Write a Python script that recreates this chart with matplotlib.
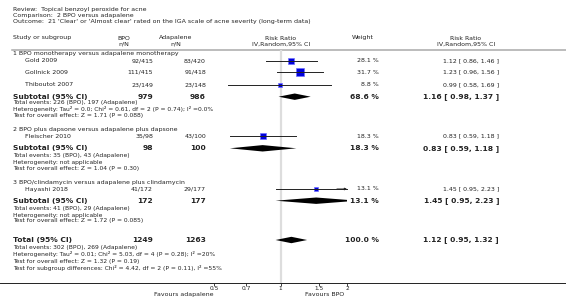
import numpy as np
import matplotlib
matplotlib.use("Agg")
import matplotlib.pyplot as plt

## header
review = "Review:  Topical benzoyl peroxide for acne"
comparison = "Comparison:  2 BPO versus adapalene"
outcome = "Outcome:  21 'Clear' or 'Almost clear' rated on the IGA scale of acne severity (long-term data)"

## studies
studies = ["Gold 2009", "Gollnick 2009", "Thiboutot 2007", "Fleischer 2010", "Hayashi 2018"]
bpo_events = [92, 111, 23, 35, 41]
bpo_n = [415, 415, 149, 98, 172]
ada_events = [83, 91, 23, 43, 29]
ada_n = [420, 418, 148, 100, 177]
weights = [28.1, 31.7, 8.8, 18.3, 13.1]
rr = [1.12, 1.23, 0.99, 0.83, 1.45]
rr_lo = [0.86, 0.96, 0.58, 0.59, 0.95]
rr_hi = [1.46, 1.56, 1.69, 1.18, 2.23]

## subgroups
groups = ["1 BPO monotherapy versus adapalene monotherapy",
          "2 BPO plus dapsone versus adapalene plus dapsone",
          "3 BPO/clindamycin versus adapalene plus clindamycin"]
grp_bpo_n = [979, 98, 172]
grp_ada_n = [986, 100, 177]
grp_weight = [68.6, 18.3, 13.1]
grp_rr = [1.16, 0.83, 1.45]
grp_lo = [0.98, 0.59, 0.95]
grp_hi = [1.37, 1.18, 2.23]
grp_notes = [
    ["Total events: 226 (BPO), 197 (Adapalene)",
     "Heterogeneity: Tau\u00b2 = 0.0; Chi\u00b2 = 0.61, df = 2 (P = 0.74); I\u00b2 =0.0%",
     "Test for overall effect: Z = 1.71 (P = 0.088)"],
    ["Total events: 35 (BPO), 43 (Adapalene)",
     "Heterogeneity: not applicable",
     "Test for overall effect: Z = 1.04 (P = 0.30)"],
    ["Total events: 41 (BPO), 29 (Adapalene)",
     "Heterogeneity: not applicable",
     "Test for overall effect: Z = 1.72 (P = 0.085)"],
]

## overall
tot_bpo_n, tot_ada_n = 1249, 1263
tot_weight = 100.0
tot_rr, tot_lo, tot_hi = 1.12, 0.95, 1.32
tot_notes = ["Total events: 302 (BPO), 269 (Adapalene)",
             "Heterogeneity: Tau\u00b2 = 0.01; Chi\u00b2 = 5.03, df = 4 (P = 0.28); I\u00b2 =20%",
             "Test for overall effect: Z = 1.32 (P = 0.19)",
             "Test for subgroup differences: Chi\u00b2 = 4.42, df = 2 (P = 0.11), I\u00b2 =55%"]

xticks = [0.5, 0.7, 1, 1.5, 2]
xticklabels = ["0.5", "0.7", "1", "1.5", "2"]

W, H = 566, 300
fig = plt.figure(figsize=(W / 100, H / 100), dpi=100)
ax = fig.add_axes([0, 0, 1, 1])
ax.set_xlim(0, W)
ax.set_ylim(H, 0)
ax.axis("off")

# forest panel: x from 214 to 347 px, y from 50 to 283 px
fx0, fx1, fy0, fy1 = 214, 347, 50, 283
fax = fig.add_axes([fx0 / W, 1 - fy1 / H, (fx1 - fx0) / W, (fy1 - fy0) / H])
fax.set_xscale("log")
fax.set_xlim(0.5, 2)
fax.set_ylim(fy1, fy0)
fax.patch.set_alpha(0)
for s in fax.spines.values():
    s.set_visible(False)
fax.set_yticks([])
fax.set_xticks(xticks)
fax.set_xticklabels(xticklabels)
fax.xaxis.set_minor_locator(matplotlib.ticker.NullLocator())
fax.tick_params(axis="x", length=2, width=0.6, pad=0.3, labelsize=4.2, colors="#222222")

TXT = "#222222"
SM = 4.5
NOTE = 4.3
BIG = 5.4

def t(x, y, s, ha="left", size=SM, weight="normal"):
    ax.text(x, y, s, ha=ha, va="center", fontsize=size, fontweight=weight, color=TXT)

# header
t(13, 9, review)
t(13, 15.5, comparison)
t(13, 22, outcome)
t(13, 38, "Study or subgroup")
t(124, 38, "BPO", ha="center")
t(124, 44, "n/N", ha="center")
t(176, 38, "Adapalene", ha="center")
t(176, 44, "n/N", ha="center")
t(281, 38, "Risk Ratio", ha="center")
t(281, 44, "IV,Random,95% CI", ha="center")
t(363, 38, "Weight", ha="center")
t(466, 38, "Risk Ratio", ha="center")
t(466, 44, "IV,Random,95% CI", ha="center")
ax.plot([12, W], [50, 50], color="#aaaaaa", lw=1.1)

# null line
fax.axvline(1, color="#dddddd", lw=1.6, zorder=0)

def diamond(y, c, lo, hi, h=3.2):
    fax.fill([lo, c, hi, c], [y, y - h, y, y + h], color="black", lw=0, clip_on=True)

group_y = [53.3, 130, 182.3]
study_y = [60.7, 72.3, 85, 136, 189]
sub_y = [96.7, 148.3, 200.7]
note_y = [[102.7, 109.3, 116], [155, 162.3, 168.3], [208.3, 215, 220.7]]

for g, name in enumerate(groups):
    t(13, group_y[g], name)

for i, s in enumerate(studies):
    y = study_y[i]
    t(25, y, s)
    t(153, y, "%d/%d" % (bpo_events[i], bpo_n[i]), ha="right")
    t(206, y, "%d/%d" % (ada_events[i], ada_n[i]), ha="right")
    t(379, y, "%.1f %%" % weights[i], ha="right")
    t(499, y, "%.2f [ %.2f, %.2f ]" % (rr[i], rr_lo[i], rr_hi[i]), ha="right")
    side = 1.3 * np.sqrt(weights[i]) * 0.72
    fax.plot([rr[i]], [y], marker="s", ms=side, mfc="#0000dd", mec="#7070ff", mew=0.5, zorder=2)
    hi = min(rr_hi[i], 2.0)
    fax.plot([rr_lo[i], hi], [y, y], color="#222222", lw=0.7, zorder=3, clip_on=False)
    if rr_hi[i] > 2.0:
        fax.annotate("", xy=(2.0, y), xytext=(1.8, y),
                     arrowprops=dict(arrowstyle="-|>", color="#222222", lw=0.7,
                                     mutation_scale=3, shrinkA=0, shrinkB=0))

for g in range(len(groups)):
    y = sub_y[g]
    t(13, y, "Subtotal (95% CI)", size=BIG, weight="bold")
    t(153, y, str(grp_bpo_n[g]), ha="right", size=BIG, weight="bold")
    t(206, y, str(grp_ada_n[g]), ha="right", size=BIG, weight="bold")
    t(379, y, "%.1f %%" % grp_weight[g], ha="right", size=BIG, weight="bold")
    t(499, y, "%.2f [ %.2f, %.2f ]" % (grp_rr[g], grp_lo[g], grp_hi[g]), ha="right", size=BIG, weight="bold")
    diamond(y, grp_rr[g], grp_lo[g], grp_hi[g])
    for k, line in enumerate(grp_notes[g]):
        t(13, note_y[g][k], line, size=NOTE)

y = 240
t(13, y, "Total (95% CI)", size=BIG, weight="bold")
t(153, y, str(tot_bpo_n), ha="right", size=BIG, weight="bold")
t(206, y, str(tot_ada_n), ha="right", size=BIG, weight="bold")
t(379, y, "%.1f %%" % tot_weight, ha="right", size=BIG, weight="bold")
t(499, y, "%.2f [ %.2f, %.2f ]" % (tot_rr, tot_lo, tot_hi), ha="right", size=BIG, weight="bold")
diamond(y, tot_rr, tot_lo, tot_hi)
for k, line in enumerate(tot_notes):
    t(13, [247.7, 254.3, 261, 267.7][k], line, size=NOTE)

# bottom axis line across the figure
ax.plot([0, W], [fy1, fy1], color="#222222", lw=0.7)
t(213, 294.5, "Favours adapalene", ha="right")
t(305, 294.5, "Favours BPO")

fig.savefig("out.png", dpi=100)
